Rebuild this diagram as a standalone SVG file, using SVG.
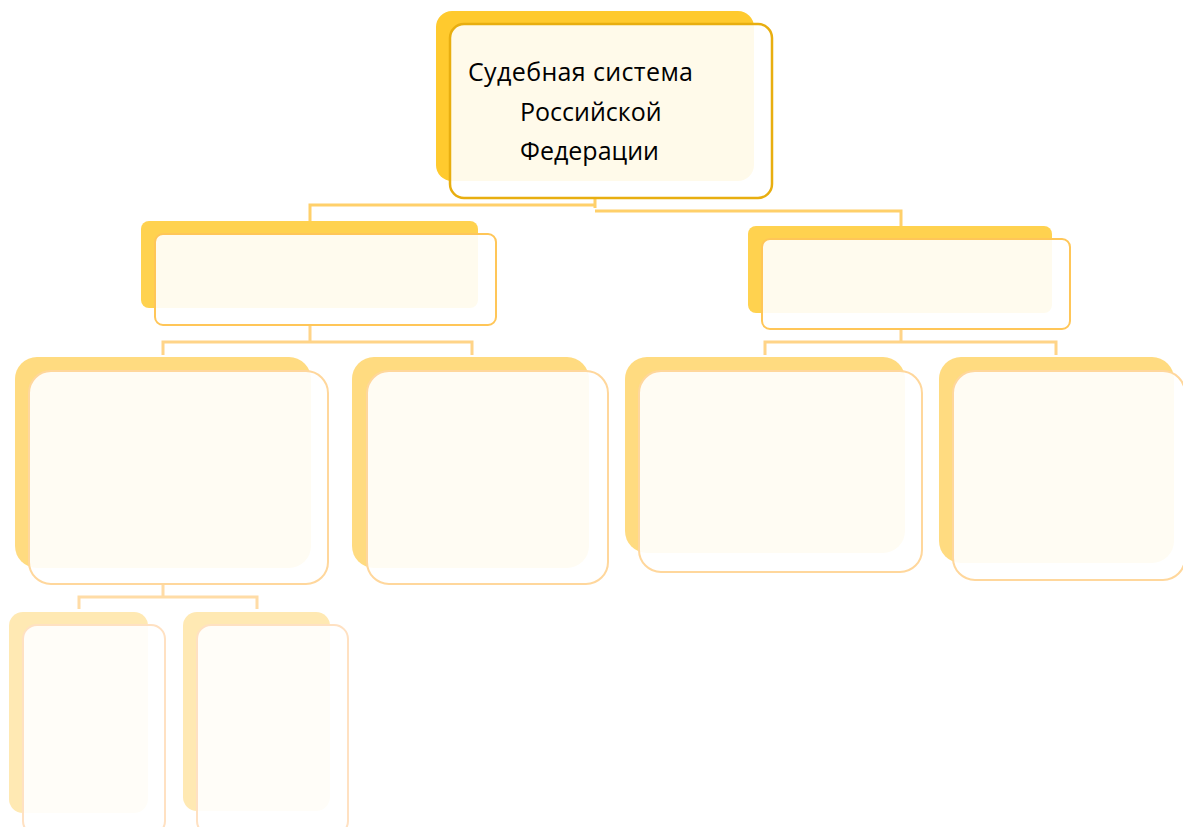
<svg xmlns="http://www.w3.org/2000/svg" width="1183" height="827" viewBox="0 0 1183 827">
<style>
.f{fill:#ffffff;fill-opacity:0.9;stroke-width:2}
.l1b{fill:#FFCA2E}.l1f{stroke:#E8AE10;stroke-width:2.5}
.l2b{fill:#FFD24F}.l2f{stroke:#FFC658}
.l3b{fill:#FFDB80}.l3f{stroke:#FFD79C}
.l4b{fill:#FFE9B3}.l4f{stroke:#FFE1C2}
.c{fill:none;stroke-width:3}
.t{font-family:"Open Sans","Liberation Sans",sans-serif;font-size:25px;fill:#000}
</style>
<rect width="1183" height="827" fill="#fff"/>
<g id="connectors">
<path class="c" stroke="#FFD06A" d="M595 198V208M595 205H310V221M595 211H901V226"/>
<path class="c" stroke="#FFD488" d="M310 325V342M163 355V342H472V355M901 329V342M765 355V342H1056V355"/>
<path class="c" stroke="#FFDCA6" d="M163 584V597M79 609V597H257V609"/>
</g>
<g id="n-root">
<rect class="l1b" x="436" y="11" width="318" height="170" rx="16"/>
<rect class="f l1f" x="450" y="24" width="322" height="174" rx="14"/>
<text class="t" x="468" y="81" textLength="225">Судебная система</text>
<text class="t" x="520" y="121">Российской</text>
<text class="t" x="520" y="160">Федерации</text>
</g>
<g id="n-l2a">
<rect class="l2b" x="141" y="221" width="337" height="87" rx="8"/>
<rect class="f l2f" x="155" y="234" width="341" height="91" rx="8"/>
</g>
<g id="n-l2b">
<rect class="l2b" x="748" y="226" width="304" height="87" rx="8"/>
<rect class="f l2f" x="762" y="239" width="308" height="90" rx="8"/>
</g>
<g id="n-l3a">
<rect class="l3b" x="15" y="357" width="296" height="211" rx="22"/>
<rect class="f l3f" x="29" y="371" width="299" height="213" rx="22"/>
</g>
<g id="n-l3b">
<rect class="l3b" x="352" y="357" width="237" height="211" rx="22"/>
<rect class="f l3f" x="367" y="371" width="241" height="213" rx="22"/>
</g>
<g id="n-l3c">
<rect class="l3b" x="625" y="357" width="280" height="196" rx="22"/>
<rect class="f l3f" x="639" y="371" width="283" height="201" rx="22"/>
</g>
<g id="n-l3d">
<rect class="l3b" x="939" y="357" width="235" height="206" rx="22"/>
<rect class="f l3f" x="953" y="371" width="232" height="209" rx="22"/>
</g>
<g id="n-l4a">
<rect class="l4b" x="9" y="612" width="139" height="201" rx="14"/>
<rect class="f l4f" x="23" y="625" width="142" height="210" rx="14"/>
</g>
<g id="n-l4b">
<rect class="l4b" x="183" y="612" width="147" height="199" rx="14"/>
<rect class="f l4f" x="197" y="625" width="151" height="210" rx="14"/>
</g>
</svg>
